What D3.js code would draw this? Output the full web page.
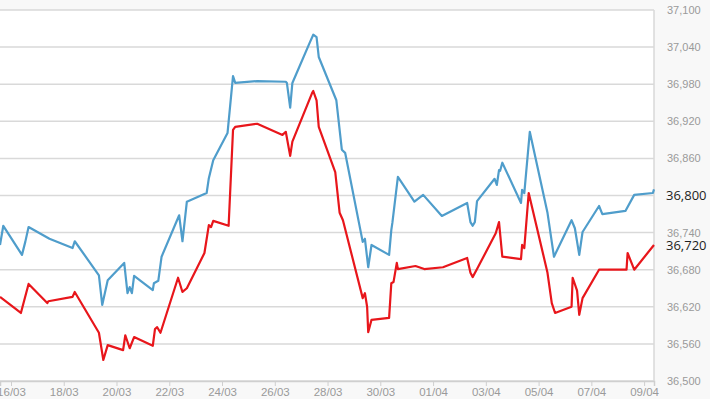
<!DOCTYPE html>
<html>
<head>
<meta charset="utf-8">
<script src="https://cdn.jsdelivr.net/npm/d3@7"></script>
<style>
    body { margin: 0; background: #f8f8f8; }
    svg { display: block; font-family: "Open Sans", sans-serif; }
</style>
</head>
<body>
<div id="chart"></div>
<script>
// blue series (upper line)
const blueTimes = [
    "2019-03-15 14:00", "2019-03-15 17:00", "2019-03-16 10:00", "2019-03-16 13:00", "2019-03-16 16:00",
    "2019-03-17 11:00", "2019-03-18 08:00", "2019-03-18 10:00", "2019-03-19 08:00", "2019-03-19 11:00",
    "2019-03-19 16:00", "2019-03-20 07:00", "2019-03-20 10:00", "2019-03-20 12:00", "2019-03-20 14:00",
    "2019-03-20 16:00", "2019-03-21 09:00", "2019-03-21 10:00", "2019-03-21 14:00", "2019-03-21 17:00",
    "2019-03-22 09:00", "2019-03-22 12:00", "2019-03-22 16:00", "2019-03-23 10:00", "2019-03-23 12:00",
    "2019-03-23 16:00", "2019-03-24 05:00", "2019-03-24 09:00", "2019-03-24 10:00", "2019-03-24 12:00",
    "2019-03-25 08:00", "2019-03-26 10:00", "2019-03-26 11:00", "2019-03-26 14:00", "2019-03-26 16:00",
    "2019-03-27 08:00", "2019-03-27 11:00", "2019-03-27 14:00", "2019-03-27 16:00", "2019-03-28 08:00",
    "2019-03-28 13:00", "2019-03-28 16:00", "2019-03-29 08:00", "2019-03-29 10:00", "2019-03-29 13:00",
    "2019-03-29 16:00", "2019-03-30 08:00", "2019-03-30 10:00", "2019-03-30 11:00", "2019-03-30 16:00",
    "2019-03-31 07:00", "2019-03-31 15:00", "2019-04-01 08:00", "2019-04-02 07:00", "2019-04-02 10:00",
    "2019-04-02 12:00", "2019-04-02 14:00", "2019-04-02 16:00", "2019-04-03 08:00", "2019-04-03 10:00",
    "2019-04-03 12:00", "2019-04-03 13:00", "2019-04-03 15:00", "2019-04-04 08:00", "2019-04-04 09:00",
    "2019-04-04 11:00", "2019-04-04 16:00", "2019-04-05 08:00", "2019-04-05 14:00", "2019-04-06 06:00",
    "2019-04-06 09:00", "2019-04-06 13:00", "2019-04-06 16:00", "2019-04-07 07:00", "2019-04-07 10:00",
    "2019-04-08 07:00", "2019-04-08 15:00", "2019-04-09 08:00", "2019-04-09 09:00"
]
const blueValues = [
    36720, 36751, 36704, 36725, 36749,
    36730, 36715, 36726, 36671, 36623,
    36663, 36691, 36642, 36652, 36642,
    36670, 36647, 36658, 36662, 36701,
    36768, 36726, 36790, 36804, 36828,
    36857, 36901, 36975, 36993, 36982,
    36985, 36984, 36982, 36942, 36982,
    37048, 37060, 37056, 37024, 36954,
    36874, 36869, 36725, 36730, 36684,
    36720, 36704, 36744, 36756, 36830,
    36790, 36801, 36767, 36788, 36757,
    36751, 36757, 36791, 36827, 36817,
    36841, 36840, 36853, 36788, 36809,
    36804, 36903, 36773, 36701, 36760,
    36747, 36704, 36741, 36783, 36770,
    36775, 36801, 36804, 36810
]

// red series (lower line)
const redTimes = [
    "2019-03-15 14:00", "2019-03-16 09:00", "2019-03-16 16:00", "2019-03-17 09:00", "2019-03-17 10:00",
    "2019-03-18 08:00", "2019-03-18 10:00", "2019-03-19 08:00", "2019-03-19 12:00", "2019-03-19 16:00",
    "2019-03-20 06:00", "2019-03-20 08:00", "2019-03-20 12:00", "2019-03-20 16:00", "2019-03-21 09:00",
    "2019-03-21 11:00", "2019-03-21 13:00", "2019-03-21 16:00", "2019-03-22 08:00", "2019-03-22 12:00",
    "2019-03-22 16:00", "2019-03-23 08:00", "2019-03-23 12:00", "2019-03-23 14:00", "2019-03-23 16:00",
    "2019-03-24 06:00", "2019-03-24 10:00", "2019-03-24 12:00", "2019-03-25 08:00", "2019-03-26 07:00",
    "2019-03-26 10:00", "2019-03-26 14:00", "2019-03-26 16:00", "2019-03-27 10:00", "2019-03-27 11:00",
    "2019-03-27 14:00", "2019-03-27 16:00", "2019-03-28 07:00", "2019-03-28 11:00", "2019-03-28 14:00",
    "2019-03-29 08:00", "2019-03-29 10:00", "2019-03-29 12:00", "2019-03-29 13:00", "2019-03-29 16:00",
    "2019-03-30 08:00", "2019-03-30 10:00", "2019-03-30 12:00", "2019-03-30 15:00", "2019-03-30 16:00",
    "2019-03-31 08:00", "2019-03-31 16:00", "2019-04-01 09:00", "2019-04-02 07:00", "2019-04-02 10:00",
    "2019-04-02 12:00", "2019-04-02 16:00", "2019-04-03 09:00", "2019-04-03 12:00", "2019-04-03 15:00",
    "2019-04-04 08:00", "2019-04-04 09:00", "2019-04-04 11:00", "2019-04-04 15:00", "2019-04-05 08:00",
    "2019-04-05 12:00", "2019-04-05 15:00", "2019-04-06 06:00", "2019-04-06 07:00", "2019-04-06 11:00",
    "2019-04-06 13:00", "2019-04-06 16:00", "2019-04-07 07:00", "2019-04-08 08:00", "2019-04-08 09:00",
    "2019-04-08 15:00", "2019-04-09 09:00"
]
const redValues = [
    36636, 36610, 36657, 36626, 36629,
    36636, 36644, 36578, 36534, 36558,
    36550, 36574, 36553, 36571, 36557,
    36584, 36587, 36578, 36667, 36644,
    36650, 36707, 36752, 36749, 36759,
    36751, 36906, 36911, 36916, 36898,
    36903, 36864, 36887, 36966, 36969,
    36954, 36911, 36838, 36772, 36760,
    36634, 36642, 36620, 36579, 36599,
    36602, 36658, 36660, 36691, 36681,
    36686, 36681, 36684, 36699, 36675,
    36668, 36681, 36739, 36757, 36701,
    36697, 36720, 36715, 36804, 36676,
    36626, 36610, 36620, 36667, 36646,
    36607, 36634, 36680, 36680, 36707,
    36680, 36720
]

const xTickLabels = ["16/03", "18/03", "20/03", "22/03", "24/03", "26/03", "28/03", "30/03", "01/04", "03/04", "05/04", "07/04", "09/04"]
const yTicks = [36500, 36560, 36620, 36680, 36740, 36800, 36860, 36920, 36980, 37040, 37100]
const lastLabels = ["36,800", "36,720"]

const parseTime = d3.timeParse("%Y-%m-%d %H:%M")
const parseTick = d3.timeParse("%d/%m/%Y")

const series = [
    { color: "#4f9dcb", label: lastLabels[0], points: blueTimes.map((t, i) => ({ date: parseTime(t), value: blueValues[i] })) },
    { color: "#e8161b", label: lastLabels[1], points: redTimes.map((t, i) => ({ date: parseTime(t), value: redValues[i] })) }
]

const width = 710, height = 399
const margin = { top: 10, right: 56, bottom: 18, left: 0 }
const innerW = width - margin.left - margin.right,
    innerH = height - margin.top - margin.bottom

const svg = d3.select("#chart")
    .append("svg")
    .attr("width", width)
    .attr("height", height)

svg.append("rect")
    .attr("width", width)
    .attr("height", height)
    .attr("fill", "#f8f8f8")

const g = svg.append("g")
    .attr("transform", `translate(${margin.left},${margin.top})`)

const allPoints = series.flatMap(s => s.points)

const x = d3.scaleTime()
    .domain(d3.extent(allPoints, d => d.date))
    .range([0, innerW])

const y = d3.scaleLinear()
    .domain([yTicks[0], yTicks[yTicks.length - 1]])
    .range([innerH, 0])

g.append("rect")
    .attr("width", innerW)
    .attr("height", innerH)
    .attr("fill", "#fff")

// horizontal grid
g.append("g")
    .selectAll("line")
    .data(yTicks)
    .join("line")
    .attr("x1", 0)
    .attr("x2", innerW)
    .attr("y1", d => y(d))
    .attr("y2", d => y(d))
    .attr("stroke", "#d9d9d9")
    .attr("stroke-width", 1.5)

// right frame
g.append("line")
    .attr("x1", innerW).attr("x2", innerW)
    .attr("y1", 0).attr("y2", innerH)
    .attr("stroke", "#d9d9d9")
    .attr("stroke-width", 1.5)

// x axis
const xAxis = g.append("g")
    .attr("transform", `translate(0,${innerH})`)
    .call(d3.axisBottom(x)
        .tickValues(xTickLabels.map(l => parseTick(l + "/2019")))
        .tickFormat(d3.timeFormat("%d/%m"))
        .tickSize(5)
        .tickPadding(2))
xAxis.select(".domain").attr("stroke", "#cfcfcf").attr("stroke-width", 1.5)
xAxis.selectAll(".tick line").attr("stroke", "#cfcfcf")
xAxis.selectAll(".tick text").attr("fill", "#9a9a9a").attr("font-size", 11.5)

// y axis on the right
const yAxis = g.append("g")
    .attr("transform", `translate(${innerW},0)`)
    .call(d3.axisRight(y)
        .tickValues(yTicks)
        .tickFormat(d3.format(","))
        .tickSize(0)
        .tickPadding(13))
yAxis.select(".domain").remove()
yAxis.selectAll(".tick text")
    .attr("fill", "#9a9a9a")
    .attr("font-size", 11)
    .style("display", d => d === 36800 ? "none" : null)

const line = d3.line()
    .x(d => x(d.date))
    .y(d => y(d.value))

g.selectAll(".series")
    .data(series)
    .join("path")
    .attr("class", "series")
    .attr("fill", "none")
    .attr("stroke", d => d.color)
    .attr("stroke-width", 2.2)
    .attr("stroke-linejoin", "round")
    .attr("d", d => line(d.points))

// last value labels
g.selectAll(".last")
    .data(series)
    .join("text")
    .attr("class", "last")
    .attr("x", innerW + 12)
    .attr("y", d => y(+d.label.replace(",", "")))
    .attr("dy", "0.35em")
    .attr("fill", "#1e1e1e")
    .attr("font-size", 13)
    .text(d => d.label)
</script>
</body>
</html>
